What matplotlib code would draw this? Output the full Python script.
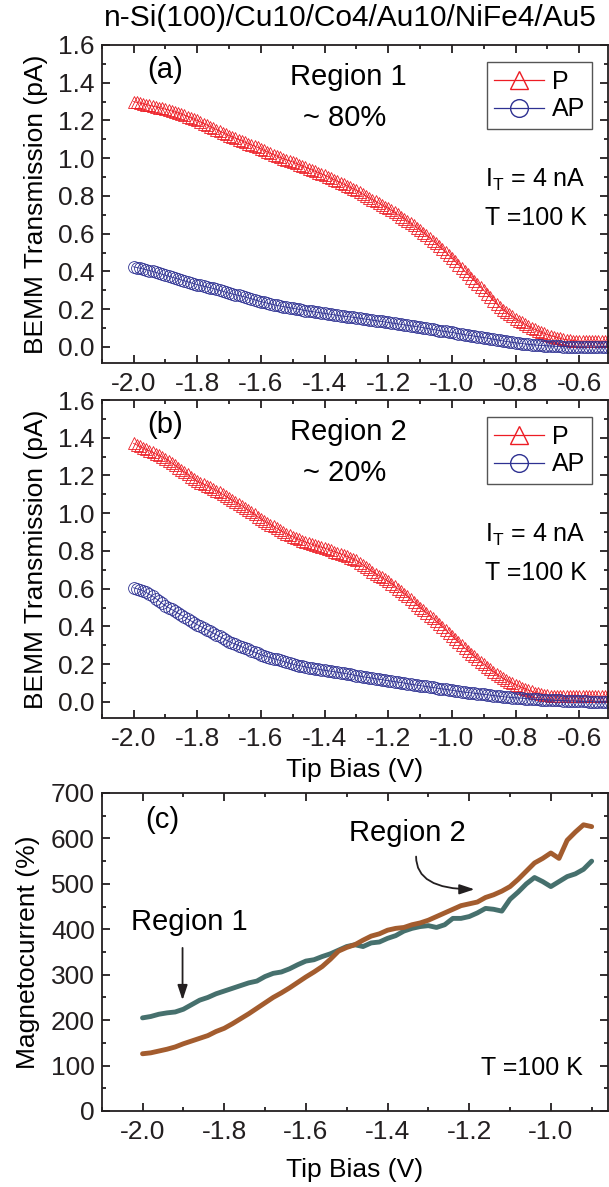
import matplotlib

matplotlib.use("Agg")
import matplotlib.pyplot as plt
import numpy as np
from matplotlib.ticker import FormatStrFormatter, MultipleLocator

plt.rcParams["font.family"] = ["Liberation Sans", "DejaVu Sans"]
plt.rcParams["mathtext.fontset"] = "custom"
plt.rcParams["mathtext.rm"] = "Liberation Sans"
plt.rcParams["mathtext.it"] = "Liberation Sans:italic"
plt.rcParams["axes.unicode_minus"] = False

# ---- data -------------------------------------------------------------
# panels (a), (b): tip bias sweep, -2.00 .. -0.50 V in 0.01 V steps
bias_ab = np.round(np.arange(-2.0, -0.4995, 0.01), 2)

p_region1 = [
    1.300, 1.296, 1.292, 1.288, 1.284, 1.280, 1.276, 1.272, 1.268, 1.264,
    1.260, 1.255, 1.250, 1.245, 1.240, 1.234, 1.228, 1.221, 1.214, 1.207,
    1.200, 1.192, 1.184, 1.176, 1.168, 1.160, 1.152, 1.144, 1.136, 1.128,
    1.120, 1.113, 1.106, 1.099, 1.092, 1.085, 1.078, 1.071, 1.064, 1.057,
    1.050, 1.042, 1.034, 1.026, 1.018, 1.011, 1.004, 0.998, 0.992, 0.986,
    0.980, 0.973, 0.966, 0.959, 0.952, 0.945, 0.938, 0.931, 0.924, 0.917,
    0.910, 0.902, 0.894, 0.886, 0.878, 0.870, 0.862, 0.854, 0.846, 0.838,
    0.830, 0.820, 0.810, 0.800, 0.790, 0.781, 0.771, 0.762, 0.753, 0.744,
    0.735, 0.724, 0.713, 0.702, 0.691, 0.680, 0.668, 0.656, 0.644, 0.632,
    0.620, 0.606, 0.592, 0.578, 0.564, 0.549, 0.534, 0.518, 0.502, 0.486,
    0.470, 0.453, 0.436, 0.419, 0.402, 0.385, 0.368, 0.351, 0.334, 0.317,
    0.300, 0.282, 0.264, 0.246, 0.228, 0.213, 0.198, 0.186, 0.174, 0.162,
    0.150, 0.140, 0.130, 0.120, 0.110, 0.101, 0.093, 0.086, 0.079, 0.072,
    0.065, 0.060, 0.055, 0.050, 0.045, 0.041, 0.038, 0.036, 0.034, 0.032,
    0.030, 0.030, 0.030, 0.030, 0.030, 0.030, 0.030, 0.030, 0.030, 0.030,
    0.030,
]
ap_region1 = [
    0.425, 0.421, 0.417, 0.413, 0.409, 0.405, 0.400, 0.395, 0.390, 0.385,
    0.380, 0.375, 0.370, 0.365, 0.360, 0.355, 0.350, 0.345, 0.340, 0.335,
    0.330, 0.326, 0.322, 0.318, 0.314, 0.310, 0.305, 0.300, 0.295, 0.290,
    0.285, 0.281, 0.277, 0.273, 0.269, 0.265, 0.260, 0.255, 0.250, 0.245,
    0.240, 0.236, 0.232, 0.228, 0.224, 0.220, 0.217, 0.214, 0.211, 0.208,
    0.205, 0.202, 0.199, 0.196, 0.193, 0.190, 0.188, 0.185, 0.183, 0.180,
    0.178, 0.175, 0.173, 0.170, 0.168, 0.165, 0.163, 0.161, 0.159, 0.157,
    0.155, 0.152, 0.150, 0.147, 0.145, 0.142, 0.140, 0.137, 0.135, 0.132,
    0.130, 0.127, 0.125, 0.122, 0.120, 0.117, 0.115, 0.112, 0.110, 0.107,
    0.105, 0.102, 0.099, 0.096, 0.093, 0.090, 0.087, 0.084, 0.082, 0.079,
    0.077, 0.074, 0.071, 0.068, 0.065, 0.062, 0.060, 0.057, 0.055, 0.052,
    0.050, 0.047, 0.044, 0.041, 0.038, 0.035, 0.032, 0.029, 0.027, 0.024,
    0.022, 0.020, 0.018, 0.016, 0.014, 0.012, 0.011, 0.009, 0.008, 0.007,
    0.006, 0.005, 0.004, 0.003, 0.003, 0.002, 0.002, 0.001, 0.001, 0.000,
    0.000, 0.000, 0.000, 0.000, 0.000, 0.000, 0.000, 0.000, 0.000, 0.000,
    0.000,
]
p_region2 = [
    1.370, 1.362, 1.354, 1.346, 1.338, 1.330, 1.322, 1.314, 1.306, 1.298,
    1.290, 1.278, 1.266, 1.254, 1.242, 1.230, 1.218, 1.206, 1.194, 1.182,
    1.170, 1.162, 1.154, 1.146, 1.138, 1.129, 1.120, 1.110, 1.100, 1.090,
    1.080, 1.070, 1.060, 1.050, 1.040, 1.029, 1.018, 1.006, 0.994, 0.982,
    0.970, 0.960, 0.950, 0.940, 0.930, 0.920, 0.910, 0.901, 0.892, 0.883,
    0.875, 0.868, 0.861, 0.854, 0.847, 0.841, 0.835, 0.830, 0.825, 0.820,
    0.815, 0.809, 0.803, 0.797, 0.791, 0.785, 0.778, 0.771, 0.764, 0.757,
    0.750, 0.738, 0.726, 0.714, 0.702, 0.691, 0.680, 0.670, 0.660, 0.650,
    0.640, 0.627, 0.614, 0.601, 0.588, 0.574, 0.560, 0.545, 0.530, 0.515,
    0.500, 0.486, 0.472, 0.458, 0.444, 0.429, 0.414, 0.398, 0.382, 0.366,
    0.350, 0.334, 0.318, 0.302, 0.286, 0.271, 0.256, 0.242, 0.228, 0.214,
    0.200, 0.187, 0.174, 0.161, 0.148, 0.137, 0.126, 0.117, 0.108, 0.099,
    0.090, 0.083, 0.076, 0.069, 0.062, 0.056, 0.050, 0.046, 0.042, 0.038,
    0.035, 0.034, 0.033, 0.032, 0.031, 0.030, 0.030, 0.030, 0.030, 0.030,
    0.030, 0.030, 0.030, 0.030, 0.030, 0.030, 0.030, 0.030, 0.030, 0.030,
    0.030,
]
ap_region2 = [
    0.605, 0.600, 0.595, 0.588, 0.580, 0.570, 0.560, 0.548, 0.535, 0.522,
    0.510, 0.500, 0.490, 0.480, 0.470, 0.460, 0.450, 0.440, 0.430, 0.420,
    0.410, 0.401, 0.392, 0.383, 0.374, 0.365, 0.356, 0.347, 0.338, 0.329,
    0.320, 0.313, 0.306, 0.299, 0.292, 0.285, 0.278, 0.271, 0.264, 0.257,
    0.250, 0.245, 0.240, 0.235, 0.230, 0.225, 0.220, 0.215, 0.210, 0.205,
    0.200, 0.196, 0.193, 0.189, 0.186, 0.182, 0.179, 0.176, 0.173, 0.170,
    0.168, 0.165, 0.163, 0.160, 0.158, 0.155, 0.152, 0.149, 0.146, 0.143,
    0.140, 0.137, 0.134, 0.131, 0.129, 0.126, 0.123, 0.120, 0.118, 0.115,
    0.113, 0.110, 0.108, 0.105, 0.103, 0.100, 0.097, 0.094, 0.092, 0.089,
    0.087, 0.084, 0.082, 0.079, 0.077, 0.074, 0.071, 0.069, 0.067, 0.064,
    0.062, 0.059, 0.057, 0.054, 0.052, 0.050, 0.048, 0.046, 0.044, 0.042,
    0.040, 0.038, 0.036, 0.034, 0.032, 0.030, 0.028, 0.026, 0.025, 0.023,
    0.022, 0.021, 0.020, 0.018, 0.017, 0.016, 0.015, 0.014, 0.013, 0.012,
    0.011, 0.010, 0.009, 0.008, 0.008, 0.007, 0.006, 0.005, 0.005, 0.004,
    0.004, 0.003, 0.003, 0.002, 0.002, 0.001, 0.001, 0.000, 0.000, 0.000,
    0.000,
]

# panel (c): magnetocurrent, -2.00 .. -0.90 V in 0.02 V steps
bias_c = np.round(np.arange(-2.0, -0.899, 0.02), 2)
mc_region1 = [
    205, 208, 213, 216, 218, 224, 234, 244, 250, 258,
    264, 270, 276, 282, 286, 296, 303, 306, 313, 322,
    330, 333, 340, 346, 354, 362, 366, 362, 370, 372,
    380, 386, 396, 402, 406, 408, 404, 410, 424, 424,
    428, 436, 446, 444, 440, 466, 482, 500, 514, 505,
    494, 505, 516, 522, 532, 550,
]
mc_region2 = [
    126, 128, 132, 136, 141, 148, 154, 160, 166, 175,
    182, 192, 203, 214, 226, 238, 250, 260, 271, 283,
    295, 306, 318, 334, 352, 360, 366, 376, 385, 390,
    398, 402, 404, 410, 414, 420, 428, 436, 444, 452,
    456, 460, 470, 476, 484, 494, 510, 528, 546, 556,
    568, 556, 596, 614, 630, 626,
]

RED = "#ed1c24"
BLUE = "#2e3192"
TEAL = "#46706d"
BROWN = "#a35c2e"
INK = "#231f20"

TICK_FS = 19
LABEL_FS = 19
TEXT_FS = 21
NOTE_FS = 18

W, H = 609, 1187
fig = plt.figure(figsize=(W / 100, H / 100), dpi=100)


def axes_px(left, top, right, bottom):
    return fig.add_axes([left / W, 1 - bottom / H, (right - left) / W, (bottom - top) / H])


def style(ax, xmaj, xmin, ymaj, ymin, yfmt):
    ax.xaxis.set_major_locator(MultipleLocator(xmaj))
    ax.xaxis.set_minor_locator(MultipleLocator(xmin))
    ax.yaxis.set_major_locator(MultipleLocator(ymaj))
    ax.yaxis.set_minor_locator(MultipleLocator(ymin))
    ax.xaxis.set_major_formatter(FormatStrFormatter("%.1f"))
    ax.yaxis.set_major_formatter(FormatStrFormatter(yfmt))
    ax.tick_params(which="both", direction="in", top=True, right=True,
                   labelsize=TICK_FS, width=1.3, colors=INK)
    ax.tick_params(which="major", length=6, pad=5)
    ax.tick_params(axis="x", which="major", pad=6.5)
    ax.tick_params(which="minor", length=3)
    for s in ax.spines.values():
        s.set_linewidth(1.3)
        s.set_color(INK)


def transmission_panel(ax, p, ap, tag, region, ratio):
    ax.plot(bias_ab, p, "-", lw=0.6, color=RED, marker="^", ms=9,
            mfc="none", mew=0.6, label="P")
    ax.plot(bias_ab, ap, "-", lw=0.6, color=BLUE, marker="o", ms=8.5,
            mfc="none", mew=0.6, label="AP")
    ax.set_xlim(-2.1, -0.51)
    ax.set_ylim(-0.085, 1.6)
    style(ax, 0.2, 0.1, 0.2, 0.1, "%.1f")
    ax.set_ylabel("BEMM Transmission (pA)", fontsize=LABEL_FS, labelpad=7)
    leg = ax.legend(loc="upper right", bbox_to_anchor=(0.969, 0.946),
                    borderaxespad=0, fontsize=NOTE_FS, fancybox=False,
                    edgecolor="#555555", framealpha=1, handlelength=2.0,
                    markerscale=1.5, labelspacing=0.15, borderpad=0.3,
                    handletextpad=0.3)
    leg.get_frame().set_linewidth(1.0)
    for h in leg.legend_handles:
        h.set_linewidth(0.9)
        h.set_markeredgewidth(1.0)
    ax.text(0.125, 0.921, tag, transform=ax.transAxes, ha="center",
            va="center", fontsize=TEXT_FS)
    ax.text(0.487, 0.900, region, transform=ax.transAxes, ha="center",
            va="center", fontsize=TEXT_FS)
    ax.text(0.479, 0.770, ratio, transform=ax.transAxes, ha="center",
            va="center", fontsize=TEXT_FS)
    ax.text(0.757, 0.575, r"I$_\mathrm{T}$ = 4 nA", transform=ax.transAxes,
            ha="left", va="center", fontsize=NOTE_FS)
    ax.text(0.757, 0.456, "T =100 K", transform=ax.transAxes, ha="left",
            va="center", fontsize=NOTE_FS)


ax_a = axes_px(101.7, 45, 608, 363)
ax_b = axes_px(101.7, 400, 608, 718)
ax_c = axes_px(101.7, 793, 608, 1111)

transmission_panel(ax_a, p_region1, ap_region1, "(a)", "Region 1", "~ 80%")
transmission_panel(ax_b, p_region2, ap_region2, "(b)", "Region 2", "~ 20%")
ax_b.set_xlabel("Tip Bias (V)", fontsize=LABEL_FS, labelpad=5)

ax_c.plot(bias_c, mc_region1, color=TEAL, lw=3.5, solid_capstyle="round")
ax_c.plot(bias_c, mc_region2, color=BROWN, lw=3.5, solid_capstyle="round")
ax_c.set_xlim(-2.1, -0.86)
ax_c.set_ylim(0, 700)
style(ax_c, 0.2, 0.1, 100, 50, "%d")
ax_c.set_xlabel("Tip Bias (V)", fontsize=LABEL_FS, labelpad=10)
ax_c.set_ylabel("Magnetocurrent (%)", fontsize=LABEL_FS, labelpad=8)
ax_c.text(0.119, 0.915, "(c)", transform=ax_c.transAxes, ha="center",
          va="center", fontsize=TEXT_FS)
ax_c.text(-1.886, 417, "Region 1", ha="center", va="center", fontsize=TEXT_FS)
ax_c.annotate("", xy=(-1.902, 244), xytext=(-1.902, 359),
              arrowprops=dict(arrowstyle="-|>,head_length=0.6,head_width=0.2",
                              color=INK, lw=1.3, shrinkA=0, shrinkB=0,
                              mutation_scale=15))
ax_c.text(-1.352, 612, "Region 2", ha="center", va="center", fontsize=TEXT_FS)
ax_c.annotate("", xy=(-1.187, 488), xytext=(-1.33, 560),
              arrowprops=dict(arrowstyle="-|>,head_length=0.6,head_width=0.2",
                              color=INK, lw=1.3, shrinkA=0, shrinkB=0,
                              mutation_scale=15,
                              connectionstyle="angle3,angleA=90,angleB=0"))
ax_c.text(0.95, 0.135, "T =100 K", transform=ax_c.transAxes, ha="right",
          va="center", fontsize=NOTE_FS)

fig.text(350 / W, 1 - 18 / H, "n-Si(100)/Cu10/Co4/Au10/NiFe4/Au5",
         ha="center", va="center", fontsize=21.5)

fig.savefig("out.png", dpi=100)
